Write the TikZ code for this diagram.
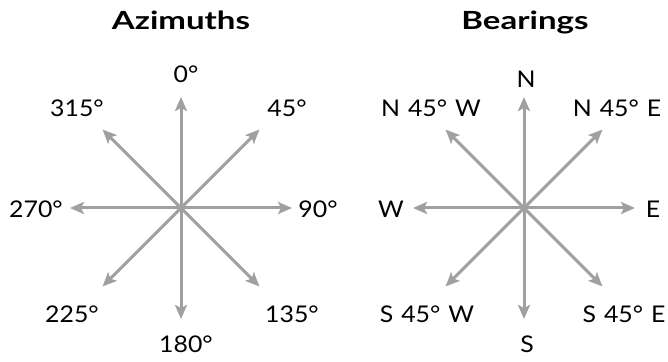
\documentclass[tikz,border=0pt]{standalone}
\usepackage{fontspec}
\setmainfont{Lato}[FakeStretch=1.08,WordSpace=1.25]
\newfontfamily\ttlfont{Lato}[FakeStretch=1.32]
\usetikzlibrary{arrows.meta}
\definecolor{raygray}{RGB}{160,160,160}
\begin{document}
\begin{tikzpicture}[x=1pt,y=1pt,>={Stealth[length=14pt,width=12pt,inset=3pt]},
 ray/.style={->,draw=raygray,line width=3pt},
 lab/.style={anchor=base,inner sep=0pt,font=\fontsize{23}{26}\selectfont},
 ttl/.style={lab,font=\ttlfont\fontsize{25}{28}\selectfont\bfseries}]
\useasboundingbox (0,0) rectangle (668,361);
\coordinate (Az) at (181,153); \coordinate (Be) at (524,153);
% rays
\foreach \a in {0,45,...,315}{
 \path (Az) ++(\a:111) coordinate (Az-\a); \path (Be) ++(\a:111) coordinate (Be-\a);
 \draw[ray] (Az)--(Az-\a); \draw[ray] (Be)--(Be-\a);}
% azimuths
\node[ttl] (azT) at (181,331){Azimuths};
\foreach \x/\y/\lab [count=\i] in {186/278/0°,287/244/45°,318/143/90°,292/39/135°,186/9/180°,72/39/225°,36/143/270°,77/244/315°}
 \node[lab] (az\i) at (\x,\y){\lab};
% bearings
\node[ttl] (beT) at (525,331){Bearings};
\foreach \x/\y/\lab [count=\i] in {526/273/N,617/244/N 45° E,653/143/E,624/39/S 45° E,527/9/S,427/39/S 45° W,391/143/W,431/244/N 45° W}
 \node[lab] (be\i) at (\x,\y){\lab};
\end{tikzpicture}
\end{document}
